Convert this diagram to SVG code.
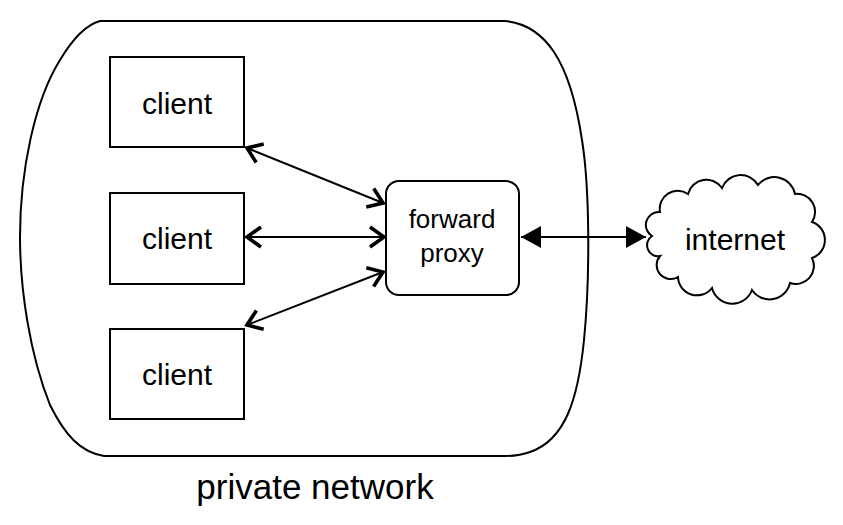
<svg xmlns="http://www.w3.org/2000/svg" width="843" height="525" viewBox="0 0 843 525">
<style>
.ln{fill:none;stroke:#000;stroke-width:2}
.bx{fill:#fff;stroke:#000;stroke-width:2}
.t{font-family:"Liberation Sans",Arial,sans-serif;fill:#000;text-anchor:middle}
</style>
<defs>
<marker id="open" markerUnits="userSpaceOnUse" markerWidth="30" markerHeight="30" viewBox="-20 -15 30 30" refX="0" refY="0" orient="auto-start-reverse">
<path d="M-14,-10 L0,0 L-14,10" fill="none" stroke="#000" stroke-width="3.6"/>
</marker>
<marker id="solid" markerUnits="userSpaceOnUse" markerWidth="30" markerHeight="30" viewBox="-25 -15 30 30" refX="0" refY="0" orient="auto-start-reverse">
<path d="M-20,-11 L0,0 L-20,11 Z" fill="#000"/>
</marker>
</defs>
<g id="private-network">
<path class="ln" d="M100,21 L505,21 C545,25 570,60 582,140 C590,190 590,280 584,340 C578,400 565,440 530,452 C522,455 515,456 505,456 L104,456 C80,452 65,435 50,405 C30,355 20,290 20,237 C20,170 35,100 60,60 C72,40 85,25 100,21 Z"/>
<text class="t" x="315" y="499" font-size="35">private network</text>
</g>
<g id="client1">
<rect class="bx" x="110" y="57" width="134" height="90"/>
<text class="t" x="177" y="114" font-size="30">client</text>
</g>
<g id="client2">
<rect class="bx" x="110" y="193" width="134" height="91"/>
<text class="t" x="177" y="249" font-size="30">client</text>
</g>
<g id="client3">
<rect class="bx" x="110" y="329" width="134" height="90"/>
<text class="t" x="177" y="385" font-size="30">client</text>
</g>
<g id="proxy">
<rect class="bx" x="386" y="181" width="133" height="114" rx="13"/>
<text class="t" x="452" y="228" font-size="26">forward</text>
<text class="t" x="452" y="262" font-size="26">proxy</text>
</g>
<g id="internet">
<path class="bx" d="M660,212 A18,18 0 0 1 688,194 A19,19 0 0 1 722,188 A20,20 0 0 1 758,185 A21,21 0 0 1 795,194 A18,18 0 0 1 812,222 A19,19 0 0 1 812,258 A18,18 0 0 1 790,283 A21,21 0 0 1 752,290 A21,21 0 0 1 712,288 A19,19 0 0 1 678,277 A14,14 0 0 1 660,256 A11,11 0 0 1 652,236 A13,13 0 0 1 660,212 Z"/>
<text class="t" x="735" y="250" font-size="30">internet</text>
</g>
<g id="connectors">
<line class="ln" x1="247" y1="148" x2="383" y2="203" marker-start="url(#open)" marker-end="url(#open)"/>
<line class="ln" x1="247" y1="237" x2="384" y2="237" marker-start="url(#open)" marker-end="url(#open)"/>
<line class="ln" x1="247" y1="325" x2="383" y2="272" marker-start="url(#open)" marker-end="url(#open)"/>
<line class="ln" x1="521" y1="237" x2="646" y2="237" marker-start="url(#solid)" marker-end="url(#solid)"/>
</g>
</svg>
